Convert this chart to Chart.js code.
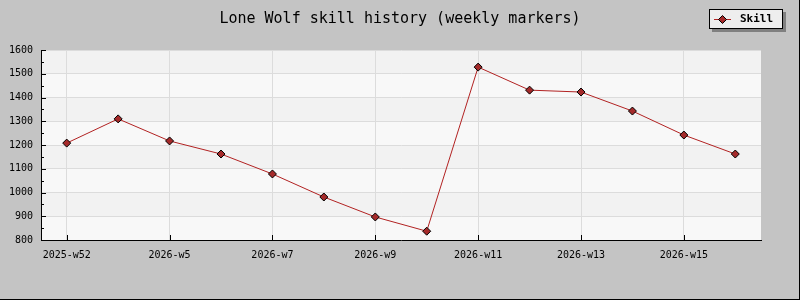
<!DOCTYPE html>
<html>
<head>
<meta charset="utf-8">
<script src="https://cdn.jsdelivr.net/npm/chart.js@4/dist/chart.umd.min.js"></script>
<style>
  body { margin: 0; background: #c4c4c4; }
  canvas { display: block; }
</style>
</head>
<body>
<canvas id="graph1" width="800" height="300"></canvas>
<script>
const weeks = ['2025-w52', '2026-w4', '2026-w5', '2026-w6', '2026-w7', '2026-w8', '2026-w9',
  '2026-w10', '2026-w11', '2026-w12', '2026-w13', '2026-w14', '2026-w15', '2026-w16'];
const skill = [1208, 1310, 1217, 1162, 1078, 981, 897, 837, 1528, 1431, 1423, 1343, 1242, 1162];
const yTicks = [800, 900, 1000, 1100, 1200, 1300, 1400, 1500, 1600];

const mono = "'DejaVu Sans Mono', monospace";

// background, bands, title, inward ticks, legend box, frame
const decor = {
  id: 'decor',
  beforeDraw(chart) {
    const c = chart.ctx, a = chart.chartArea, y = chart.scales.y;
    c.save();
    c.fillStyle = '#c4c4c4';
    c.fillRect(0, 0, chart.width, chart.height);
    for (let i = 0; i < yTicks.length - 1; i++) {
      const top = y.getPixelForValue(yTicks[i + 1]);
      const bot = y.getPixelForValue(yTicks[i]);
      c.fillStyle = (i % 2 === 1) ? '#f2f2f2' : '#f8f8f8';
      c.fillRect(a.left, top, a.right - a.left, bot - top);
    }
    c.restore();
  },
  beforeDatasetsDraw(chart) {
    const c = chart.ctx, a = chart.chartArea, x = chart.scales.x, y = chart.scales.y;
    c.save();
    c.strokeStyle = '#000';
    c.lineWidth = 1;
    c.beginPath();
    for (let v = yTicks[0]; v <= yTicks[yTicks.length - 1]; v += 50) {
      const py = Math.round(y.getPixelForValue(v)) + 0.5;
      const len = (v % 100 === 0) ? 5 : 3;
      c.moveTo(a.left, py);
      c.lineTo(a.left + len, py);
    }
    for (let i = 0; i < weeks.length; i += 2) {
      const px = Math.round(x.getPixelForValue(i)) + 0.5;
      c.moveTo(px, a.bottom);
      c.lineTo(px, a.bottom - 5);
    }
    c.stroke();
    c.restore();
  },
  afterDraw(chart) {
    const c = chart.ctx;
    c.save();
    // title
    c.fillStyle = '#000';
    c.font = '15px ' + mono;
    c.textAlign = 'center';
    c.textBaseline = 'middle';
    c.fillText('Lone Wolf skill history (weekly markers)', 400, 19);
    // legend
    c.fillStyle = '#808080';
    c.fillRect(712, 12, 74, 20);
    c.fillStyle = '#eeeeee';
    c.fillRect(709, 9, 74, 20);
    c.strokeStyle = '#000';
    c.strokeRect(709.5, 9.5, 73, 19);
    c.strokeStyle = '#b22222';
    c.beginPath();
    c.moveTo(714, 19.5);
    c.lineTo(731, 19.5);
    c.stroke();
    c.fillStyle = '#a52a2a';
    c.strokeStyle = '#000';
    c.beginPath();
    c.moveTo(722.5, 15.5);
    c.lineTo(726.5, 19.5);
    c.lineTo(722.5, 23.5);
    c.lineTo(718.5, 19.5);
    c.closePath();
    c.fill();
    c.stroke();
    c.fillStyle = '#000';
    c.font = 'bold 11px ' + mono;
    c.textAlign = 'left';
    c.fillText('Skill', 740, 19.5);
    // frame
    c.fillRect(799, 0, 1, 300);
    c.fillRect(0, 299, 800, 1);
    c.restore();
  }
};

document.addEventListener('DOMContentLoaded', function() {
  const ctx1 = document.getElementById('graph1').getContext('2d');
  new Chart(ctx1, {
    type: 'line',
    data: {
      labels: weeks,
      datasets: [{
        label: 'Skill',
        data: skill,
        borderColor: '#b22222',
        borderWidth: 1,
        backgroundColor: '#a52a2a',
        pointStyle: 'rectRot',
        pointRadius: 4,
        pointBorderColor: '#000',
        pointBorderWidth: 1,
        pointBackgroundColor: '#a52a2a',
        tension: 0,
        fill: false
      }]
    },
    options: {
      responsive: false,
      animation: false,
      layout: { padding: { left: 0, top: 50, right: 39, bottom: 0 } },
      plugins: {
        legend: { display: false },
        title: { display: false },
        tooltip: { enabled: false }
      },
      scales: {
        x: {
          offset: true,
          afterFit(scale) { scale.height = 60; },
          grid: {
            offset: false,
            drawTicks: false,
            color: (c) => (c.index % 2 === 0 ? '#dcdcdc' : 'rgba(0,0,0,0)'),
            lineWidth: 1
          },
          border: { display: true, color: '#000', width: 1 },
          ticks: {
            autoSkip: false,
            maxRotation: 0,
            padding: 9,
            color: '#000',
            font: { family: mono, size: 10 },
            callback: function(val, i) { return i % 2 === 0 ? weeks[i] : ''; }
          }
        },
        y: {
          min: 800,
          max: 1600,
          afterFit(scale) { scale.width = 41; },
          afterBuildTicks(scale) { scale.ticks = yTicks.map(v => ({ value: v })); },
          grid: { drawTicks: false, color: '#dcdcdc', lineWidth: 1 },
          border: { display: true, color: '#000', width: 1 },
          ticks: {
            padding: 8,
            color: '#000',
            font: { family: mono, size: 10 },
            callback: (v) => String(v)
          }
        }
      }
    },
    plugins: [decor]
  });
});
</script>
</body>
</html>
